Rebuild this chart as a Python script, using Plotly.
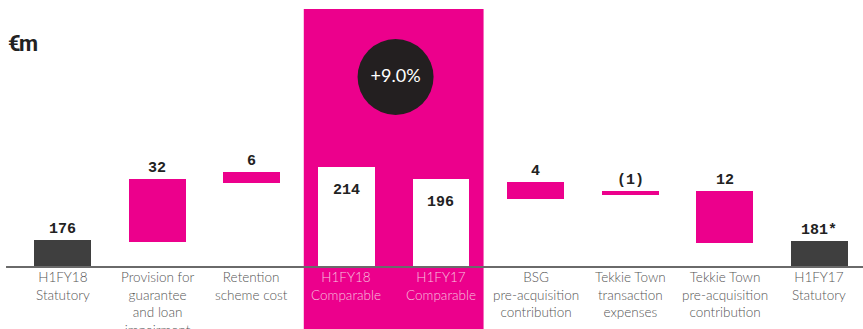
import plotly.graph_objects as go

# ---- data (display extents; axis units = px above baseline) ----
categories = ["H1FY18<br>Statutory",
              "Provision for<br>guarantee<br>and loan<br>impairment",
              "Retention<br>scheme cost",
              "H1FY18<br>Comparable",
              "H1FY17<br>Comparable",
              "BSG<br>pre-acquisition<br>contribution",
              "Tekkie Town<br>transaction<br>expenses",
              "Tekkie Town<br>pre-acquisition<br>contribution",
              "H1FY17<br>Statutory"]
value_labels = ["176", "32", "6", "214", "196", "4", "(1)", "12", "181*"]
bar_bottom = [0, 25, 84, 0, 0, 68, 72, 24, 0]
bar_top = [27, 88, 95, 100, 88, 85, 76, 76, 26]
bar_kind = ["total", "step", "step", "comparable", "comparable", "step", "step", "step", "total"]
growth_label = "+9.0%"
unit_label = "€m"

PINK = "#EC008C"
DARK = "#3f3f3f"
kind_color = {"total": DARK, "step": PINK, "comparable": "#ffffff"}

x = list(range(len(categories)))
heights = [t - b for t, b in zip(bar_top, bar_bottom)]
colors = [kind_color[k] for k in bar_kind]

fig = go.Figure()
fig.add_trace(go.Bar(x=x, y=heights, base=bar_bottom, width=0.6,
                     marker=dict(color=colors, line=dict(width=0)),
                     hoverinfo="skip"))

comp_idx = [i for i, k in enumerate(bar_kind) if k == "comparable"]
band_x0 = min(comp_idx) - 0.45
band_x1 = max(comp_idx) + 0.45
band_mid = (band_x0 + band_x1) / 2

# pink highlight band
fig.add_shape(type="rect", xref="x", yref="y", x0=band_x0, x1=band_x1, y0=-70, y1=258,
              fillcolor=PINK, line=dict(width=0), layer="below")
# baseline
fig.add_shape(type="line", xref="paper", yref="y", x0=0.007, x1=1, y0=0, y1=0,
              line=dict(color="#6a6a6a", width=2), layer="above")

# growth bubble
fig.add_trace(go.Scatter(x=[band_mid + 0.02], y=[190], mode="markers+text",
                         marker=dict(size=76, color="#231f20", line=dict(width=0)),
                         text=[growth_label], textposition="middle center",
                         textfont=dict(family="Lato", size=18, color="#ffffff"),
                         hoverinfo="skip"))

VAL_FONT = dict(family="Liberation Mono", size=15, color="#222222", weight="bold")
annotations = []
for i, (lab, top, kind) in enumerate(zip(value_labels, bar_top, bar_kind)):
    if kind == "comparable":
        annotations.append(dict(x=i, y=top, xref="x", yref="y", text=lab, showarrow=False,
                                yanchor="middle", yshift=-23, font=VAL_FONT))
    else:
        annotations.append(dict(x=i, y=top, xref="x", yref="y", text=lab, showarrow=False,
                                yanchor="bottom", yshift=0, font=VAL_FONT))

for i, (cat, kind) in enumerate(zip(categories, bar_kind)):
    col = "#f7c3df" if kind == "comparable" else "#555555"
    annotations.append(dict(x=i, y=0, xref="x", yref="y", text=cat, showarrow=False,
                            yanchor="top", yshift=0, align="center",
                            font=dict(family="Lato", size=13.5, color=col, weight=300)))

annotations.append(dict(x=6 / 863, y=1 - 43 / 329, xref="paper", yref="paper",
                        text="<span style='letter-spacing:-1.5px'>" + unit_label + "</span>",
                        showarrow=False, xanchor="left", yanchor="middle",
                        font=dict(family="Roboto", size=22, color="#222222", weight="bold")))

fig.update_layout(
    width=863, height=329, autosize=False,
    margin=dict(l=0, r=0, t=0, b=0),
    paper_bgcolor="white", plot_bgcolor="white",
    showlegend=False,
    xaxis=dict(range=[-0.6605, 8.46], visible=False, fixedrange=True),
    yaxis=dict(range=[-62, 267], visible=False, fixedrange=True),
    annotations=annotations,
    bargap=0,
)

fig.write_html("out.html", config={"displayModeBar": False},
               post_script="document.body.style.margin='0';document.body.style.overflow='hidden';")
